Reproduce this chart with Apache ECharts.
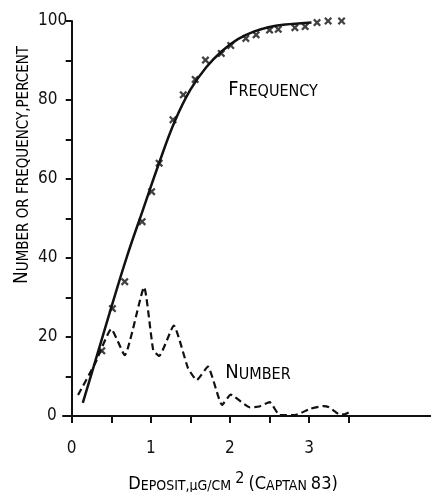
<!DOCTYPE html>
<html><head><meta charset="utf-8">
<script src="https://cdn.jsdelivr.net/npm/echarts@6/dist/echarts.min.js"></script>
<style>html,body{margin:0;padding:0;background:#fff}#c{width:431px;height:492px}</style>
</head><body><div id="c"></div>
<script>
// Smooth fitted frequency curve (solid)
const freqCurveX = [0.14, 0.3, 0.5, 0.7, 0.9, 1.1, 1.3, 1.5, 1.7, 1.9, 2.1, 2.3, 2.5, 2.7, 2.9, 3.03];
const freqCurveY = [3.3, 14, 27.5, 40.5, 52.2, 63.8, 74.5, 82.6, 88.3, 92.4, 95.4, 97.3, 98.5, 99.1, 99.4, 99.6];
// Observed cumulative frequency (x marks)
const freqObsX = [0.38, 0.515, 0.67, 0.89, 1.01, 1.105, 1.28, 1.41, 1.56, 1.69, 1.89, 2.01, 2.2, 2.33, 2.5, 2.61, 2.82, 2.95, 3.1, 3.24, 3.41, 3.54];
const freqObsY = [16.5, 27.2, 34, 49.2, 56.8, 64, 75, 81.3, 85.2, 90.1, 91.8, 93.8, 95.6, 96.5, 97.7, 97.9, 98.3, 98.6, 99.6, 100, 100, 100.4];
// Number (dashed)
const numX = [0.08, 0.3, 0.5, 0.67, 0.915, 1.03, 1.105, 1.29, 1.47, 1.58, 1.72, 1.9, 2.01, 2.25, 2.37, 2.5, 2.63, 2.82, 3.01, 3.18, 3.25, 3.37, 3.44, 3.54];
const numY = [5.3, 13.5, 22, 15.4, 32.6, 16.7, 15.2, 22.9, 12.1, 9.1, 12.5, 2.8, 5.4, 2.2, 2.4, 3.5, 0.2, 0.2, 1.8, 2.5, 2.2, 0.5, 0.4, 1.3];
// Axis ticks / labels
const xTickValues = [0, 0.5, 1, 1.5, 2, 2.5, 3, 3.5];
const xLabelValues = [0, 1, 2, 3];
const yTickValues = [0, 10, 20, 30, 40, 50, 60, 70, 80, 90, 100];
const yLabelValues = [0, 20, 40, 60, 80, 100];

const zip = (a, b) => a.map((v, i) => [v, b[i]]);
const FONT = "'Liberation Sans Narrow','DejaVu Sans Condensed','Liberation Sans',sans-serif";
const INK = '#111';
const capsRich = (big, small) => ({
  b: {fontSize: big, fontFamily: FONT, color: INK, verticalAlign: 'bottom', lineHeight: big + 4},
  s: {fontSize: small, fontFamily: FONT, color: INK, verticalAlign: 'bottom', lineHeight: big + 4},
  sup: {fontSize: small + 2, fontFamily: FONT, color: INK, verticalAlign: 'top', lineHeight: big + 4}
});

const chart = echarts.init(document.getElementById('c'), null, {renderer: 'canvas'});
chart.setOption({
  animation: false,
  backgroundColor: '#fff',
  grid: {left: 63, right: 0, top: 21, bottom: 76, containLabel: false},
  xAxis: {
    type: 'value', min: -0.11, max: 4.54,
    axisLine: {onZero: true, lineStyle: {color: INK, width: 2}},
    axisTick: {customValues: xTickValues, length: 7, lineStyle: {color: INK, width: 2}},
    axisLabel: {customValues: xLabelValues, margin: 24, fontSize: 17, fontFamily: FONT, color: INK},
    splitLine: {show: false}
  },
  yAxis: {
    type: 'value', min: 0, max: 100,
    axisLine: {show: true, onZero: true, lineStyle: {color: INK, width: 2}},
    axisTick: {show: true, customValues: yTickValues, length: 6, lineStyle: {color: INK, width: 2}},
    axisLabel: {
      customValues: yLabelValues, margin: 25, align: 'left', fontSize: 17, fontFamily: FONT, color: INK,
      formatter: v => v === 0 ? '{p|0}' : String(v),
      rich: {p: {padding: [0, 0, 0, 9], fontSize: 17, fontFamily: FONT, color: INK}}
    },
    splitLine: {show: false}
  },
  series: [
    {type: 'line', data: zip(freqCurveX, freqCurveY), smooth: 0.4, showSymbol: false,
     lineStyle: {color: INK, width: 2.5}},
    {type: 'scatter', data: zip(freqObsX, freqObsY),
     symbol: 'path://M0,2L2,0L5,3L8,0L10,2L7,5L10,8L8,10L5,7L2,10L0,8L3,5Z', symbolSize: 8,
     itemStyle: {color: INK}},
    {type: 'line', data: zip(numX, numY), smooth: 0.15, showSymbol: false,
     lineStyle: {color: INK, width: 2.2, type: [7, 4]}}
  ],
  graphic: [
    {type: 'text', x: 273, y: 88, style: {text: '{b|F}{s|REQUENCY}', rich: capsRich(20, 16), align: 'center', verticalAlign: 'middle'}},
    {type: 'text', x: 258, y: 371, style: {text: '{b|N}{s|UMBER}', rich: capsRich(20, 16), align: 'center', verticalAlign: 'middle'}},
    {type: 'text', x: 233, y: 482, style: {text: '{b|D}{s|EPOSIT,μG/CM }{sup|2}{s| }{b|(C}{s|APTAN }{b|83)}', rich: capsRich(18, 14), align: 'center', verticalAlign: 'middle'}},
    {type: 'text', x: 20, y: 165, rotation: Math.PI / 2, style: {text: '{b|N}{s|UMBER OR FREQUENCY,PERCENT}', rich: capsRich(19, 15), align: 'center', verticalAlign: 'middle'}}
  ]
});
</script></body></html>
